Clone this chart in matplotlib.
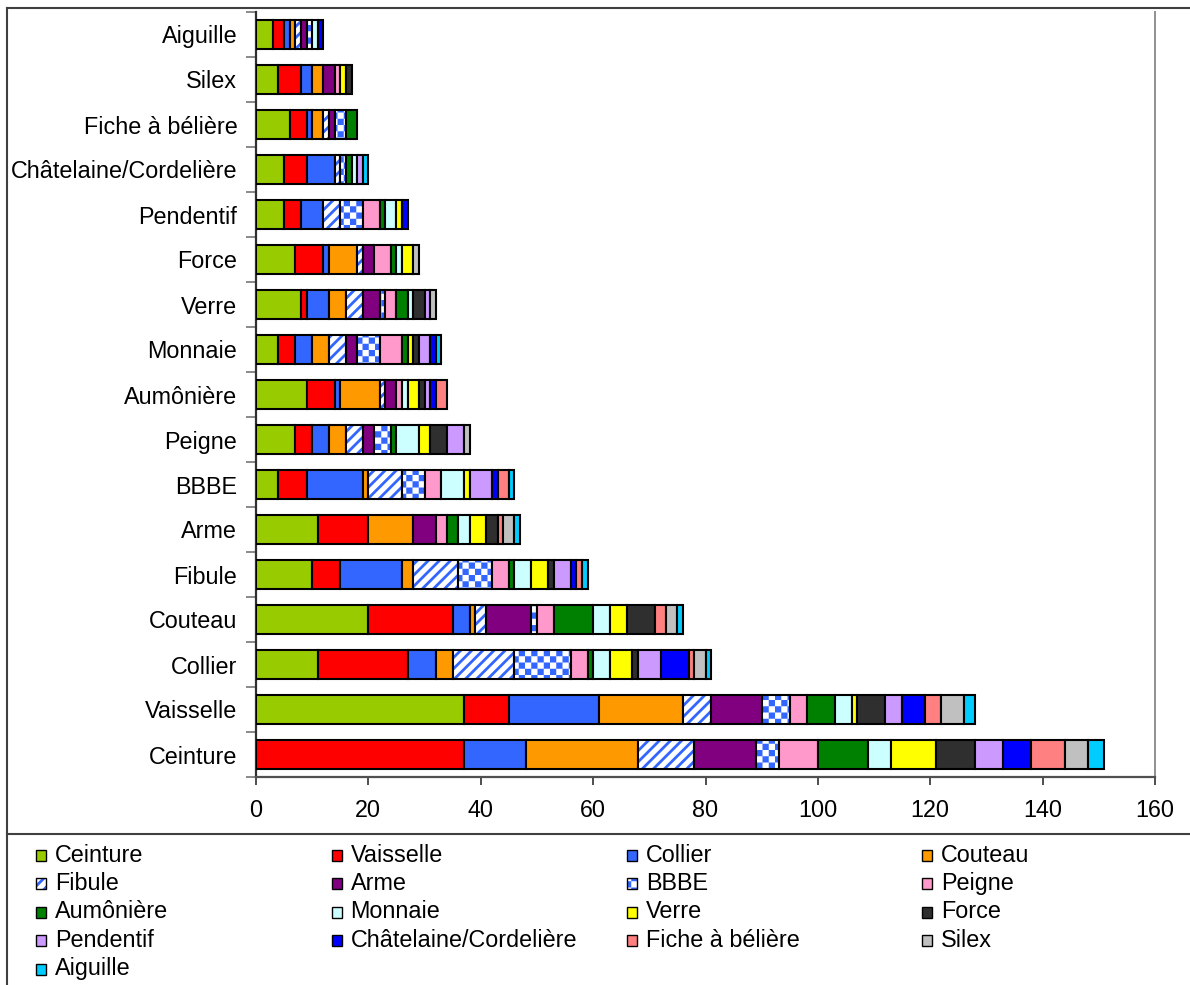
import numpy as np
import matplotlib
matplotlib.use("Agg")
import matplotlib.pyplot as plt
import matplotlib.hatch as mhatch
from matplotlib.path import Path
from matplotlib.patches import Rectangle
from matplotlib.lines import Line2D

# ---------------- data ----------------
categories = ["Ceinture", "Vaisselle", "Collier", "Couteau", "Fibule", "Arme", "BBBE",
              "Peigne", "Aumônière", "Monnaie", "Verre", "Force", "Pendentif",
              "Châtelaine/Cordelière", "Fiche à bélière", "Silex", "Aiguille"]
series_names = list(categories)

# one row per bar (category); values in the order of series_names
row_ceinture   = [0, 37, 11, 20, 10, 11, 4, 7, 9, 4, 8, 7, 5, 5, 6, 4, 3]
row_vaisselle  = [37, 8, 16, 15, 5, 9, 5, 3, 5, 3, 1, 5, 3, 4, 3, 4, 2]
row_collier    = [11, 16, 5, 3, 11, 0, 10, 3, 1, 3, 4, 1, 4, 5, 1, 2, 1]
row_couteau    = [20, 15, 3, 1, 2, 8, 1, 3, 7, 3, 3, 5, 0, 0, 2, 2, 1]
row_fibule     = [10, 5, 11, 2, 8, 0, 6, 3, 1, 3, 3, 1, 3, 1, 1, 0, 1]
row_arme       = [11, 9, 0, 8, 0, 4, 0, 2, 2, 2, 3, 2, 0, 0, 1, 2, 1]
row_bbbe       = [4, 5, 10, 1, 6, 0, 4, 3, 0, 4, 1, 0, 4, 1, 2, 0, 1]
row_peigne     = [7, 3, 3, 3, 3, 2, 3, 0, 1, 4, 2, 3, 3, 0, 0, 1, 0]
row_aumoniere  = [9, 5, 1, 7, 1, 2, 0, 1, 0, 1, 2, 1, 1, 1, 2, 0, 0]
row_monnaie    = [4, 3, 3, 3, 3, 2, 4, 4, 1, 0, 1, 1, 2, 1, 0, 0, 1]
row_verre      = [8, 1, 4, 3, 3, 3, 1, 2, 2, 1, 0, 2, 1, 0, 0, 1, 0]
row_force      = [7, 5, 1, 5, 1, 2, 0, 3, 1, 1, 2, 0, 0, 0, 0, 1, 0]
row_pendentif  = [5, 3, 4, 0, 3, 0, 4, 3, 1, 2, 1, 0, 0, 1, 0, 0, 0]
row_chatelaine = [5, 4, 5, 0, 1, 0, 1, 0, 1, 1, 0, 0, 1, 0, 0, 0, 1]
row_fiche      = [6, 3, 1, 2, 1, 1, 2, 0, 2, 0, 0, 0, 0, 0, 0, 0, 0]
row_silex      = [4, 4, 2, 2, 0, 2, 0, 1, 0, 0, 1, 1, 0, 0, 0, 0, 0]
row_aiguille   = [3, 2, 1, 1, 1, 1, 1, 0, 0, 1, 0, 0, 0, 1, 0, 0, 0]

rows = [row_ceinture, row_vaisselle, row_collier, row_couteau, row_fibule, row_arme,
        row_bbbe, row_peigne, row_aumoniere, row_monnaie, row_verre, row_force,
        row_pendentif, row_chatelaine, row_fiche, row_silex, row_aiguille]
matrix = np.array(rows, dtype=float)   # matrix[bar, series]

x_ticks = [0, 20, 40, 60, 80, 100, 120, 140, 160]

# ---------------- styles ----------------
colors = ["#99CC00", "#FF0000", "#3366FF", "#FF9900", "#FFFFFF", "#800080", "#FFFFFF",
          "#FF99CC", "#008000", "#CCFFFF", "#FFFF00", "#2F2F2F", "#CC99FF", "#0000FF",
          "#FF8080", "#C0C0C0", "#00CCFF"]
hatches = [None] * 17
hatches[4] = "///"  # Fibule : diagonal stripes
hatches[6] = "O"    # BBBE : checkerboard (custom pattern below)

HATCH_LW = 2.0


class CheckerHatch(mhatch.HatchPatternBase):
    """Checkerboard hatch, triggered by 'O'."""
    def __init__(self, hatch, density):
        self.n = 16 if hatch.count("O") > 0 else 0
        self.cells = [(i, j) for i in range(self.n) for j in range(self.n) if (i + j) % 2 == 0]
        self.num_vertices = len(self.cells) * 5

    def set_vertices_and_codes(self, vertices, codes):
        s = 1.0 / self.n
        shrink = HATCH_LW * 100 / 72 / 2 / 100
        k = 0
        for (i, j) in self.cells:
            x0, y0 = i * s + shrink, j * s + shrink
            x1, y1 = (i + 1) * s - shrink, (j + 1) * s - shrink
            vertices[k:k + 5] = [(x0, y0), (x1, y0), (x1, y1), (x0, y1), (x0, y0)]
            codes[k:k + 5] = [Path.MOVETO, Path.LINETO, Path.LINETO, Path.LINETO, Path.CLOSEPOLY]
            k += 5


mhatch._hatch_types = [t for t in mhatch._hatch_types if t is not mhatch.LargeCircles] + [CheckerHatch]

plt.rcParams["font.family"] = ["Liberation Sans", "DejaVu Sans"]
plt.rcParams["hatch.linewidth"] = HATCH_LW
plt.rcParams["hatch.color"] = "#3366FF"

W, H = 1190, 985
fig = plt.figure(figsize=(W / 100, H / 100), dpi=100)
fig.patch.set_facecolor("white")

ax_left, ax_right, ax_top, ax_bot = 256, 1155, 12, 777
ax = fig.add_axes([ax_left / W, 1 - ax_bot / H, (ax_right - ax_left) / W, (ax_bot - ax_top) / H])

ypos = np.arange(len(categories))
left = np.zeros(len(categories))
for j, name in enumerate(series_names):
    vals = matrix[:, j]
    bars = ax.barh(ypos, vals, left=left, height=0.66, color=colors[j],
                   edgecolor="black", linewidth=1.5, hatch=hatches[j], zorder=3)
    for p, v in zip(bars, vals):
        if v == 0:
            p.set_visible(False)
        if hatches[j] is not None:
            p._hatch_color = matplotlib.colors.to_rgba("#3366FF")
    left += vals

ax.set_xlim(0, 160)
ax.set_ylim(-0.5, len(categories) - 0.5)
ax.set_xticks(x_ticks)
ax.set_xticklabels([str(t) for t in x_ticks])
ax.set_yticks(np.arange(-0.5, len(categories), 1.0))
ax.set_yticklabels([])
ax.set_yticks(ypos, categories, minor=True)
ax.tick_params(axis="y", which="major", length=7, width=1.3, color="#808080", direction="out")
ax.tick_params(axis="y", which="minor", length=0, pad=13.5, labelsize=16.8)
ax.tick_params(axis="x", which="major", length=6, width=1.3, color="#404040", direction="out",
               pad=10, labelsize=16.8)

ax.spines["top"].set_visible(False)
ax.spines["left"].set_color("#303030")
ax.spines["left"].set_linewidth(1.6)
ax.spines["bottom"].set_color("#505050")
ax.spines["bottom"].set_linewidth(1.6)
ax.spines["right"].set_color("#909090")
ax.spines["right"].set_linewidth(1.4)

# outer frame
def fx(x):
    return x / W

def fy(y):
    return 1 - y / H

frame_kw = dict(color="#404040", linewidth=1.5, transform=fig.transFigure)
fig.add_artist(Line2D([fx(7), fx(W)], [fy(8), fy(8)], **frame_kw))
fig.add_artist(Line2D([fx(7), fx(7)], [fy(8), fy(H)], **frame_kw))
fig.add_artist(Line2D([fx(7), fx(W)], [fy(834), fy(834)], **frame_kw))

# legend (row-major, 4 columns)
col_x = [36, 331.5, 627, 922]
row_y0, row_dy = 855, 28.5
for i, name in enumerate(series_names):
    r, c = divmod(i, 4)
    xm = col_x[c]
    yc = row_y0 + r * row_dy
    rect = Rectangle((fx(xm), fy(yc + 5.5)), 10 / W, 11 / H, transform=fig.transFigure,
                     facecolor=colors[i], edgecolor="black", linewidth=1.0, hatch=hatches[i])
    if hatches[i] is not None:
        rect._hatch_color = matplotlib.colors.to_rgba("#3366FF")
    fig.add_artist(rect)
    fig.text(fx(xm + 19), fy(yc), name, ha="left", va="center", fontsize=16.8)

fig.savefig("out.png", dpi=100)
